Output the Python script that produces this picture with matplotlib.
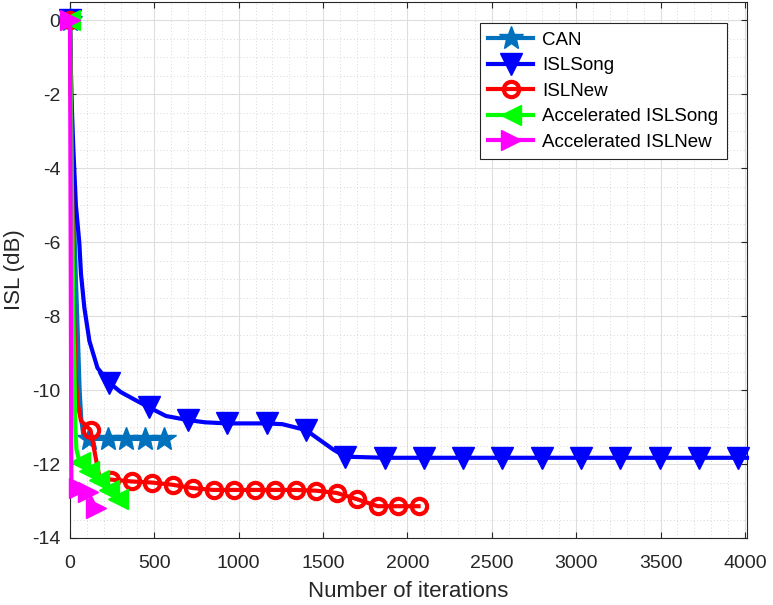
import matplotlib
matplotlib.use("Agg")
import matplotlib.pyplot as plt
from matplotlib.ticker import MultipleLocator

plt.rcParams['font.family'] = ['Liberation Sans', 'DejaVu Sans']
plt.rcParams['axes.unicode_minus'] = False

# CAN
can_x = [0, 15, 35, 50, 57, 67, 80, 111.5, 223, 334.5, 446, 557.5]
can_y = [0, -4, -7, -9, -10, -10.8, -11.25, -11.32, -11.32, -11.32, -11.32, -11.32]
can_mk = [0, 7, 8, 9, 10, 11]

# ISLSong
song_x = [0, 8, 20, 35, 55, 65, 85, 115, 163, 233, 300, 380, 466, 569, 699, 800,
          932, 1165, 1258, 1398, 1558, 1631, 1864, 2097, 2330, 2563, 2796, 3029,
          3262, 3495, 3728, 3961, 4012]
song_y = [0, -2, -3.5, -5, -6, -6.85, -7.77, -8.67, -9.4, -9.8, -10.05, -10.25,
          -10.46, -10.7, -10.81, -10.87, -10.9, -10.9, -10.92, -11.08, -11.6, -11.8,
          -11.83, -11.83, -11.83, -11.83, -11.83, -11.83, -11.83, -11.83, -11.83,
          -11.83, -11.83]
song_mk = [0, 9, 12, 14, 16, 17, 19, 21, 22, 23, 24, 25, 26, 27, 28, 29, 30, 31]

# ISLNew
new_x = [0, 5, 10, 18, 25, 32, 43, 65, 121.5, 174, 243, 364.5, 486, 607.5, 729,
         850.5, 972, 1093.5, 1215, 1336.5, 1458, 1579.5, 1701, 1822.5, 1944, 2065.5]
new_y = [0, -2, -4, -6, -8, -9.5, -10.3, -10.83, -11.08, -12.35, -12.42, -12.47,
         -12.5, -12.56, -12.65, -12.7, -12.7, -12.7, -12.7, -12.7, -12.72, -12.78,
         -12.95, -13.14, -13.14, -13.14]
new_mk = [0, 8] + list(range(10, 26))

# Accelerated ISLSong
acs_x = [0, 10, 20, 32, 38, 57, 115, 172, 230, 287]
acs_y = [0, -4, -8, -11.0, -11.6, -11.95, -12.2, -12.42, -12.7, -12.95]
acs_mk = [0, 5, 6, 7, 8, 9]

# Accelerated ISLNew
acn_x = [0, 4, 8, 52, 104, 155]
acn_y = [0, -6, -12.5, -12.65, -12.75, -13.2]
acn_mk = [0, 3, 4, 5]

fig = plt.figure(figsize=(7.73, 6.05), dpi=100)
ax = fig.add_axes([70/773, 1-538/605, (747-70)/773, (538-2)/605])

lw = 3
ax.plot(can_x, can_y, '-', color='#0072BD', lw=lw, marker='*', ms=18,
        markevery=can_mk, label='CAN', clip_on=False, zorder=3)
ax.plot(song_x, song_y, '-', color=(0, 0, 1), lw=lw, marker='v', ms=16,
        markevery=song_mk, label='ISLSong', clip_on=False, zorder=3)
ax.plot(new_x, new_y, '-', color=(1, 0, 0), lw=lw, marker='o', ms=11,
        mfc='none', mew=3, markevery=new_mk, label='ISLNew', clip_on=False, zorder=3)
ax.plot(acs_x, acs_y, '-', color=(0, 1, 0), lw=lw, marker='<', ms=15,
        markevery=acs_mk, label='Accelerated ISLSong', clip_on=False, zorder=3)
ax.plot(acn_x, acn_y, '-', color=(1, 0, 1), lw=lw, marker='>', ms=15,
        markevery=acn_mk, label='Accelerated ISLNew', clip_on=False, zorder=3)

ax.set_xlim(0, 4012)
ax.set_ylim(-14, 0.5)
ax.xaxis.set_major_locator(MultipleLocator(500))
ax.xaxis.set_minor_locator(MultipleLocator(100))
ax.yaxis.set_major_locator(MultipleLocator(2))
ax.yaxis.set_minor_locator(MultipleLocator(0.5))

ax.grid(True, which='major', color='#dedede', lw=0.8)
ax.grid(True, which='minor', color='#cccccc', lw=0.6, linestyle=(0, (1, 3)))
ax.set_axisbelow(True)

for s in ax.spines.values():
    s.set_color('#262626')
    s.set_linewidth(0.8)
ax.tick_params(which='major', direction='in', length=4, width=0.8, top=True,
               right=True, colors='#262626', labelsize=14)
ax.tick_params(axis='x', which='major', pad=12)
ax.tick_params(axis='y', which='major', pad=7)
ax.tick_params(which='minor', length=0, top=True, right=True)

ax.set_xlabel('Number of iterations', fontsize=16, color='#262626', labelpad=7)
ax.set_ylabel('ISL (dB)', fontsize=16, color='#262626', labelpad=5)

leg = ax.legend(loc='upper right', fontsize=13.5, handlelength=2.4,
                bbox_to_anchor=(1 - 20/677, 1 - 21/536), borderaxespad=0,
                fancybox=False, framealpha=1, edgecolor='#262626',
                labelspacing=0.45, handletextpad=0.5, borderpad=0.45)
leg.get_frame().set_linewidth(0.8)
leg.set_zorder(5)

fig.savefig('out.png', dpi=100)
